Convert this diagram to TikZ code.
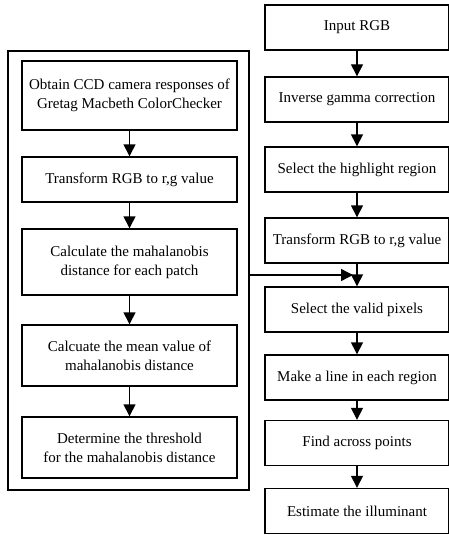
\documentclass[tikz,border=0pt]{standalone}
\usepackage{fontspec}
\setmainfont{Liberation Serif}
\usetikzlibrary{arrows.meta,calc}

\begin{document}
\begin{tikzpicture}[x=1pt, y=-1pt,
		stepbox/.style={draw, line width=1.4pt, align=center, inner sep=0pt, font=\fontsize{15}{19}\selectfont},
		lbox/.style={stepbox, minimum width=215pt},
		rbox/.style={stepbox, minimum width=184pt, minimum height=45pt},
		flow/.style={line width=1.4pt, -{Triangle[length=12pt,width=12pt]}}]
		\useasboundingbox (0,0) rectangle (448,535);
		% left part: threshold
		\node[draw, line width=1.4pt, minimum width=241pt, minimum height=439pt] (outer) at (128.5,270.5) {};
		\node[lbox, minimum height=69pt] (L1) at (129.5,95.5) {Obtain CCD camera responses of\\Gretag Macbeth ColorChecker};
		\node[lbox, minimum height=45pt] (L2) at (129.5,179.5) {Transform RGB to r,g value};
		\node[lbox, minimum height=66pt] (L3) at (129.5,262) {Calculate the mahalanobis\\distance for each patch};
		\node[lbox, minimum height=61pt] (L4) at (129.5,355.5) {Calcuate the mean value of\\mahalanobis distance};
		\node[lbox, minimum height=61pt] (L5) at (129.5,447.5) {Determine the threshold\\for the mahalanobis distance};
		% right part: estimation
		\node[rbox] (R1) at (357,27.5) {Input RGB};
		\node[rbox] (R2) at (357,99.5) {Inverse gamma correction};
		\node[rbox] (R3) at (357,169.5) {Select the highlight region};
		\node[rbox] (R4) at (357,240.5) {Transform RGB to r,g value};
		\node[rbox] (R5) at (357,309.5) {Select the valid pixels};
		\node[rbox] (R6) at (357,377.5) {Make a line in each region};
		\node[rbox] (R7) at (357,443) {Find across points};
		\node[rbox] (R8) at (357,511) {Estimate the illuminant};
		\foreach \a/\b in {L1/L2, L2/L3, L3/L4, L4/L5, R1/R2, R2/R3, R3/R4, R4/R5, R5/R6, R6/R7, R7/R8}
			\draw[flow] (\a) -- (\b);
		\coordinate (mid) at ($(R4.south)!.5!(R5.north)$);
		\draw[flow, shorten >=4pt] (outer.east |- mid) -- (mid);
	\end{tikzpicture}
\end{document}
